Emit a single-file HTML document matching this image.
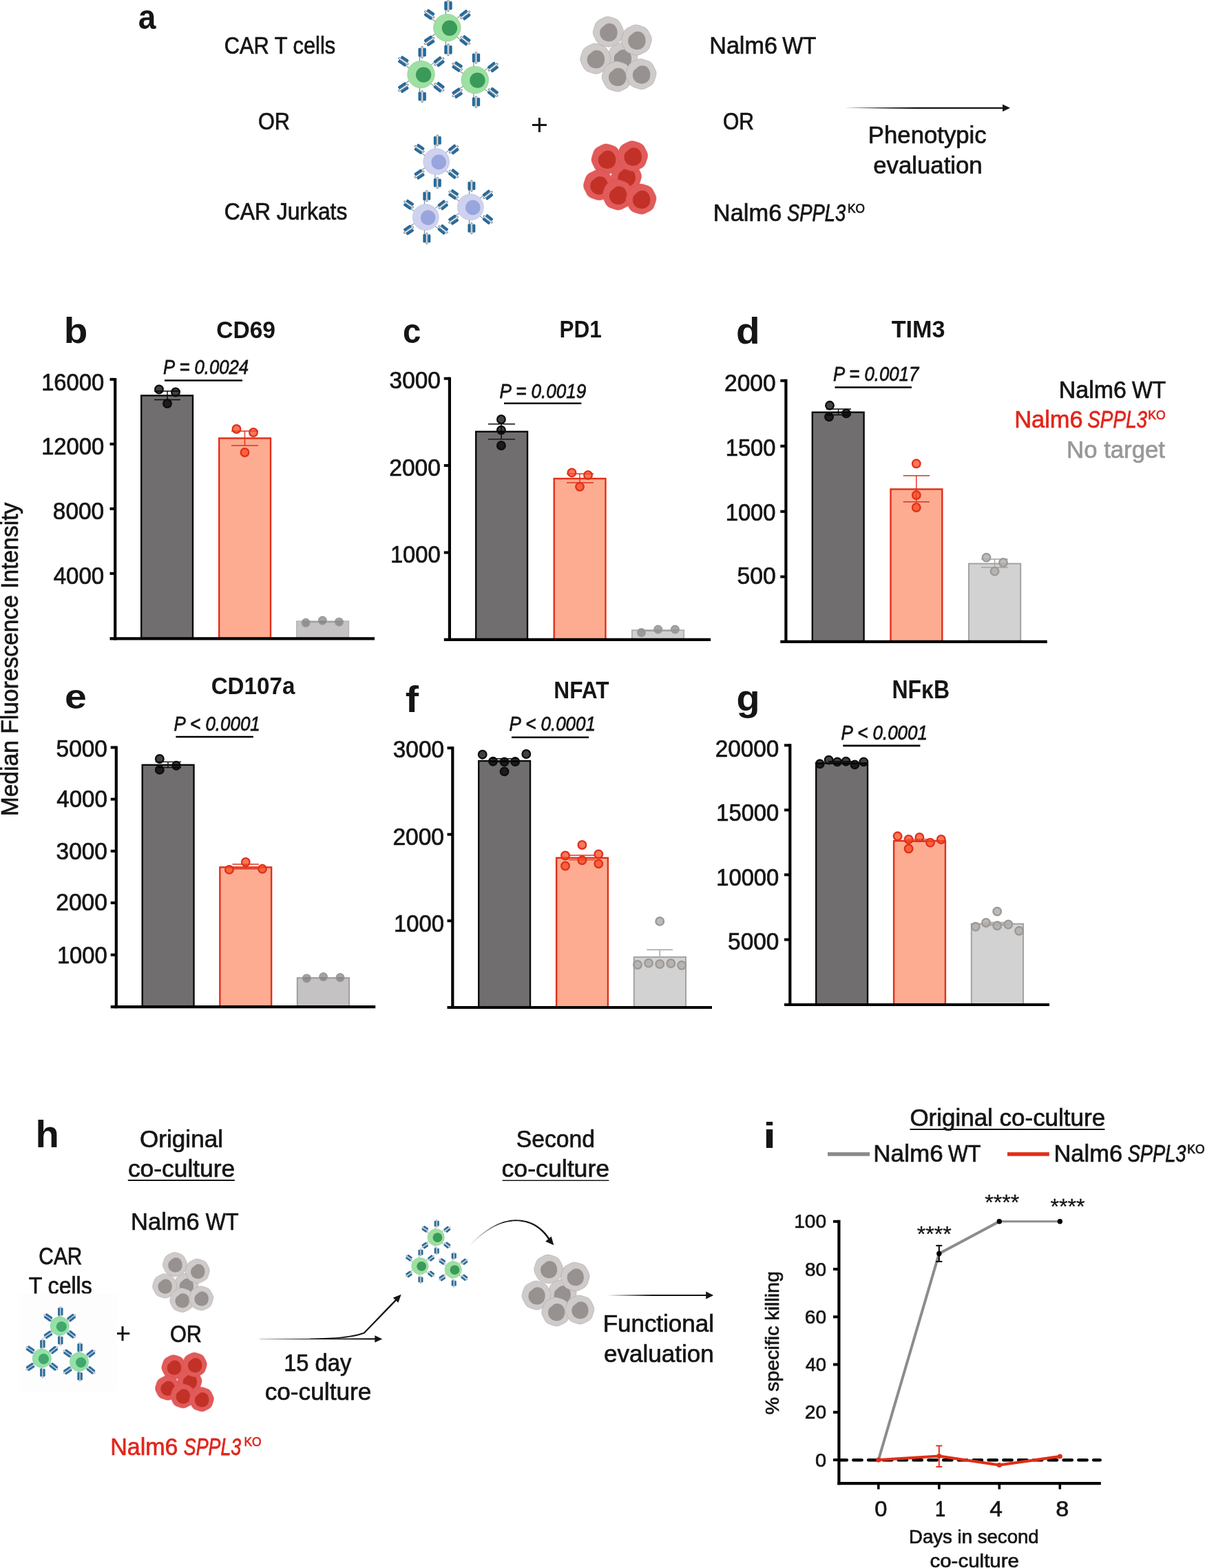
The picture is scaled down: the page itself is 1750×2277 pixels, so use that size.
<!DOCTYPE html>
<html lang="en"><head><meta charset="utf-8"><title>Figure</title>
<style>html,body{margin:0;padding:0;background:#fff;overflow:hidden}svg{display:block}text{font-family:"Liberation Sans",sans-serif}</style>
</head><body>
<svg width="1750" height="2277" viewBox="0 0 1750 2277" fill="#151515">
<rect width="1750" height="2277" fill="#fff"/>
<defs>
<g id="rc"><line x1="-1.9" y1="-19" x2="-1.9" y2="-26" stroke="#3d5666" stroke-width="0.8"/><rect x="0.45" y="-40.6" width="2.35" height="17" rx="1.17" fill="#fff" stroke="#3f5566" stroke-width="0.85"/><rect x="-4.05" y="-38.5" width="4" height="13.3" rx="1.8" fill="#256a9c"/><rect x="3.25" y="-38.5" width="4.1" height="12.7" rx="1.8" fill="#256a9c"/></g>
<g id="tc">
<use href="#rc"/>
<use href="#rc" transform="scale(1,-1)"/>
<use href="#rc" transform="rotate(52)"/>
<use href="#rc" transform="scale(1,-1) rotate(52)"/>
<use href="#rc" transform="rotate(-56)"/>
<use href="#rc" transform="scale(1,-1) rotate(-56)"/>
<circle r="19.8" fill="#9ee0a1" stroke="#7fcf86" stroke-width="0.6"/>
<circle cx="3.6" cy="0.6" r="11.2" fill="#3a9a5a"/>
</g>
<g id="jk">
<use href="#rc"/>
<use href="#rc" transform="scale(1,-1)"/>
<use href="#rc" transform="rotate(52)"/>
<use href="#rc" transform="scale(1,-1) rotate(52)"/>
<use href="#rc" transform="rotate(-56)"/>
<use href="#rc" transform="scale(1,-1) rotate(-56)"/>
<circle r="19.8" fill="#ced2ef" stroke="#b4bbec" stroke-width="0.6"/>
<circle cx="3.6" cy="0.6" r="11.2" fill="#99a5dd"/>
</g>
<g id="rcs"><line x1="-1.1" y1="-13" x2="-1.1" y2="-16" stroke="#3d6a80" stroke-width="0.7"/><rect x="-0.3" y="-28.4" width="2.7" height="14.2" rx="1.35" fill="#d9d7e3" stroke="#9a98b2" stroke-width="0.55"/><rect x="-2.7" y="-26.6" width="3.1" height="11.8" rx="1.4" fill="#2e6f9e"/><rect x="1.75" y="-26.6" width="3.1" height="11.4" rx="1.4" fill="#2e6f9e"/></g>
<g id="tcs">
<use href="#rcs"/>
<use href="#rcs" transform="scale(1,-1)"/>
<use href="#rcs" transform="rotate(52)"/>
<use href="#rcs" transform="scale(1,-1) rotate(52)"/>
<use href="#rcs" transform="rotate(-56)"/>
<use href="#rcs" transform="scale(1,-1) rotate(-56)"/>
<circle r="13.6" fill="#96e0a6" stroke="#7dd6a2" stroke-width="0.7"/>
<circle cx="2.6" cy="0.8" r="7.6" fill="#40a86c"/>
</g>
<g id="ng">
<path d="M22.00,0.00 L21.59,2.43 L20.89,4.77 L20.14,7.05 L19.39,9.34 L18.49,11.62 L17.24,13.75 L15.56,15.56 L13.55,16.99 L11.40,18.14 L9.26,19.22 L7.11,20.31 L4.86,21.29 L2.47,21.91 L0.00,22.00 L-2.43,21.59 L-4.77,20.89 L-7.05,20.14 L-9.34,19.39 L-11.62,18.49 L-13.75,17.24 L-15.56,15.56 L-16.99,13.55 L-18.14,11.40 L-19.22,9.26 L-20.31,7.11 L-21.29,4.86 L-21.91,2.47 L-22.00,0.00 L-21.59,-2.43 L-20.89,-4.77 L-20.14,-7.05 L-19.39,-9.34 L-18.49,-11.62 L-17.24,-13.75 L-15.56,-15.56 L-13.55,-16.99 L-11.40,-18.14 L-9.26,-19.22 L-7.11,-20.31 L-4.86,-21.29 L-2.47,-21.91 L-0.00,-22.00 L2.43,-21.59 L4.77,-20.89 L7.05,-20.14 L9.34,-19.39 L11.62,-18.49 L13.75,-17.24 L15.56,-15.56 L16.99,-13.55 L18.14,-11.40 L19.22,-9.26 L20.31,-7.11 L21.29,-4.86 L21.91,-2.47Z" fill="#cfcbcb" stroke="#a59b9b" stroke-width="0.5"/>
<path d="M-12.2,1.5 C-12.2,-2 -11,-4.5 -9.5,-6 L-3.5,-11 C-2,-12 0,-12.3 2,-12.3 C9,-12.3 13.3,-6 13.3,1 C13.3,9 8,14.1 1,14.1 C-6.5,14.1 -12.2,8.5 -12.2,1.5Z" fill="#979290"/>
</g>
<g id="nr">
<path d="M22.00,0.00 L21.59,2.43 L20.89,4.77 L20.14,7.05 L19.39,9.34 L18.49,11.62 L17.24,13.75 L15.56,15.56 L13.55,16.99 L11.40,18.14 L9.26,19.22 L7.11,20.31 L4.86,21.29 L2.47,21.91 L0.00,22.00 L-2.43,21.59 L-4.77,20.89 L-7.05,20.14 L-9.34,19.39 L-11.62,18.49 L-13.75,17.24 L-15.56,15.56 L-16.99,13.55 L-18.14,11.40 L-19.22,9.26 L-20.31,7.11 L-21.29,4.86 L-21.91,2.47 L-22.00,0.00 L-21.59,-2.43 L-20.89,-4.77 L-20.14,-7.05 L-19.39,-9.34 L-18.49,-11.62 L-17.24,-13.75 L-15.56,-15.56 L-13.55,-16.99 L-11.40,-18.14 L-9.26,-19.22 L-7.11,-20.31 L-4.86,-21.29 L-2.47,-21.91 L-0.00,-22.00 L2.43,-21.59 L4.77,-20.89 L7.05,-20.14 L9.34,-19.39 L11.62,-18.49 L13.75,-17.24 L15.56,-15.56 L16.99,-13.55 L18.14,-11.40 L19.22,-9.26 L20.31,-7.11 L21.29,-4.86 L21.91,-2.47Z" fill="#e05b59" stroke="#e6494b" stroke-width="0.5"/>
<path d="M-12.2,1.5 C-12.2,-2 -11,-4.5 -9.5,-6 L-3.5,-11 C-2,-12 0,-12.3 2,-12.3 C9,-12.3 13.3,-6 13.3,1 C13.3,9 8,14.1 1,14.1 C-6.5,14.1 -12.2,8.5 -12.2,1.5Z" fill="#c23127"/>
</g>
</defs>
<g id="panel-a">
<text transform="translate(200.81,41.90) scale(0.4617,0.5036)" font-size="100" font-weight="bold">a</text>
<text transform="translate(325.81,78.40) scale(0.8981,1.0000)" font-size="34.3" stroke="#151515" stroke-width="0.74">CAR T cells</text>
<text transform="translate(374.97,188.00) scale(0.8953,1.0000)" font-size="34.3" stroke="#151515" stroke-width="0.74">OR</text>
<text transform="translate(325.76,318.80) scale(0.9277,1.0000)" font-size="34.3" stroke="#151515" stroke-width="0.73">CAR Jurkats</text>
<text transform="translate(770.84,195.98) scale(0.4330,0.4306)" font-size="100">+</text>
<use href="#tc" transform="translate(649.3,40.2)"/>
<use href="#tc" transform="translate(611.5,108.0)"/>
<use href="#tc" transform="translate(689.8,116.0)"/>
<use href="#jk" transform="translate(633.7,234.8) scale(0.96)"/>
<use href="#jk" transform="translate(618.2,315.5) scale(0.96)"/>
<use href="#jk" transform="translate(683.3,300.8) scale(0.96)"/>
<use href="#ng" transform="translate(903.8,84.3)"/>
<use href="#ng" transform="translate(864.8,85.2)"/>
<use href="#ng" transform="translate(883.3,46.2)"/>
<use href="#ng" transform="translate(924.3,58.1)"/>
<use href="#ng" transform="translate(896.2,111.0)"/>
<use href="#ng" transform="translate(931.0,107.6)"/>
<use href="#nr" transform="translate(881.0,231.0)"/>
<use href="#nr" transform="translate(909.5,256.7)"/>
<use href="#nr" transform="translate(869.5,268.6)"/>
<use href="#nr" transform="translate(918.6,226.7)"/>
<use href="#nr" transform="translate(897.1,282.9)"/>
<use href="#nr" transform="translate(931.0,289.0)"/>
<text transform="translate(1030.22,78.40) scale(0.9957,1.0000)" font-size="34.3" stroke="#151515" stroke-width="0.70">Nalm6</text>
<text transform="translate(1136.19,78.40) scale(0.9242,1.0000)" font-size="34.3" stroke="#151515" stroke-width="0.73">WT</text>
<text transform="translate(1050.00,188.00) scale(0.8746,1.0000)" font-size="34.3" stroke="#151515" stroke-width="0.75">OR</text>
<text transform="translate(1035.79,320.90) scale(1.0041,1.0000)" font-size="34.3" stroke="#151515" stroke-width="0.70">Nalm6</text>
<text transform="translate(1143.03,320.90) scale(0.7974,1.0000)" font-size="34.3" font-style="italic" stroke="#151515" stroke-width="0.78">SPPL3</text>
<text transform="translate(1230.97,308.89) scale(0.8991,1.0000)" font-size="19.2" stroke="#151515" stroke-width="0.74">KO</text>
<path d="M1226.0,156.8 L1330.0,155.7 L1457.0,155.7 L1457.0,157.9 L1330.0,157.9Z" fill="#151515"/>
<path d="M1467.0,156.8 L1456.0,151.6 L1456.0,162.0Z" fill="#151515"/>
<text transform="translate(1260.87,208.40) scale(1.0127,1.0000)" font-size="34.3" stroke="#151515" stroke-width="0.70">Phenotypic</text>
<text transform="translate(1268.26,252.00) scale(1.0137,1.0000)" font-size="34.3" stroke="#151515" stroke-width="0.70">evaluation</text>
</g>
<text transform="translate(1537.73,577.80) scale(0.9904,1.0000)" font-size="34.3" stroke="#151515" stroke-width="0.70">Nalm6</text>
<text transform="translate(1643.99,577.80) scale(0.9223,1.0000)" font-size="34.3" stroke="#151515" stroke-width="0.73">WT</text>
<text transform="translate(1473.20,621.30) scale(1.0030,1.0000)" font-size="34.3" fill="#e1261c" stroke="#e1261c" stroke-width="0.70">Nalm6</text>
<text transform="translate(1579.31,621.30) scale(0.8116,1.0000)" font-size="34.3" font-style="italic" fill="#e1261c" stroke="#e1261c" stroke-width="0.77">SPPL3</text>
<text transform="translate(1667.24,609.29) scale(0.9149,1.0000)" font-size="19.2" fill="#e1261c" stroke="#e1261c" stroke-width="0.73">KO</text>
<text transform="translate(1549.07,665.00) scale(1.0133,1.0000)" font-size="34.3" fill="#989898" stroke="#989898" stroke-width="0.70">No target</text>
<text transform="translate(25.7,1183) rotate(-90) translate(-2.34,0.00) scale(0.9800,1.0000)" font-size="34.3" stroke="#151515" stroke-width="0.71">Median Fluorescence Intensity</text>
<g id="panel-b">
<text transform="translate(92.72,498.08) scale(0.5663,0.5224)" font-size="100" font-weight="bold">b</text>
<text transform="translate(314.16,491.15) scale(0.3359,0.3535)" font-size="100" font-weight="bold">CD69</text>
<text transform="translate(237.08,543.00) scale(0.8564,1.0000)" font-size="30" font-style="italic" stroke="#151515" stroke-width="0.75">P = 0.0024</text>
<line x1="239.0" y1="552.5" x2="352.0" y2="552.5" stroke="#000" stroke-width="2.6"/>
<rect x="205.20" y="574.40" width="74.80" height="352.90" fill="#706e6f" stroke="#0a0a0a" stroke-width="2.4"/>
<line x1="243.0" y1="568.0" x2="243.0" y2="580.5" stroke="#0a0a0a" stroke-width="1.4"/>
<line x1="224.0" y1="568.0" x2="262.0" y2="568.0" stroke="#0a0a0a" stroke-width="1.4"/>
<line x1="224.0" y1="580.5" x2="262.0" y2="580.5" stroke="#0a0a0a" stroke-width="1.4"/>
<circle cx="231.0" cy="565.5" r="5.8" fill="#000000" fill-opacity="0.74" stroke="#0d0d0d" stroke-width="2.3"/>
<circle cx="255.0" cy="569.5" r="5.8" fill="#000000" fill-opacity="0.74" stroke="#0d0d0d" stroke-width="2.3"/>
<circle cx="243.0" cy="586.0" r="5.8" fill="#000000" fill-opacity="0.74" stroke="#0d0d0d" stroke-width="2.3"/>
<rect x="318.20" y="636.40" width="74.80" height="290.90" fill="#fdac91" stroke="#e0301a" stroke-width="2.4"/>
<line x1="355.5" y1="626.0" x2="355.5" y2="647.0" stroke="#e0301a" stroke-width="1.4"/>
<line x1="336.0" y1="626.0" x2="375.0" y2="626.0" stroke="#e0301a" stroke-width="1.4"/>
<line x1="336.0" y1="647.0" x2="375.0" y2="647.0" stroke="#e0301a" stroke-width="1.4"/>
<circle cx="343.5" cy="623.0" r="5.8" fill="#f74720" fill-opacity="0.74" stroke="#e0301a" stroke-width="2.3"/>
<circle cx="368.0" cy="628.0" r="5.8" fill="#f74720" fill-opacity="0.74" stroke="#e0301a" stroke-width="2.3"/>
<circle cx="355.5" cy="657.0" r="5.8" fill="#f74720" fill-opacity="0.74" stroke="#e0301a" stroke-width="2.3"/>
<rect x="430.80" y="902.10" width="75.60" height="25.20" fill="#c5c3c3" stroke="#b9b7b7" stroke-width="1.6"/>
<line x1="468.4" y1="902.6" x2="468.4" y2="903.6" stroke="#a3a09f" stroke-width="1.4"/>
<line x1="449.0" y1="902.6" x2="488.0" y2="902.6" stroke="#a3a09f" stroke-width="1.4"/>
<line x1="449.0" y1="903.6" x2="488.0" y2="903.6" stroke="#a3a09f" stroke-width="1.4"/>
<circle cx="444.1" cy="904.3" r="5.8" fill="#7d7b7a" fill-opacity="0.7" stroke="#9a9897" stroke-width="1.4"/>
<circle cx="468.4" cy="901.1" r="5.8" fill="#7d7b7a" fill-opacity="0.7" stroke="#9a9897" stroke-width="1.4"/>
<circle cx="492.5" cy="903.2" r="5.8" fill="#7d7b7a" fill-opacity="0.7" stroke="#9a9897" stroke-width="1.4"/>
<line x1="167.2" y1="548.9" x2="167.2" y2="929.4" stroke="#000" stroke-width="4.2"/>
<line x1="159.5" y1="927.3" x2="544.0" y2="927.3" stroke="#000" stroke-width="4.2"/>
<line x1="159.5" y1="550.9" x2="167.2" y2="550.9" stroke="#000" stroke-width="4"/>
<text transform="translate(60.14,566.80) scale(0.9549,1.0000)" font-size="34.3" stroke="#151515" stroke-width="0.72">16000</text>
<line x1="159.5" y1="644.8" x2="167.2" y2="644.8" stroke="#000" stroke-width="4"/>
<text transform="translate(60.14,660.40) scale(0.9549,1.0000)" font-size="34.3" stroke="#151515" stroke-width="0.72">12000</text>
<line x1="159.5" y1="738.8" x2="167.2" y2="738.8" stroke="#000" stroke-width="4"/>
<text transform="translate(76.85,754.10) scale(0.9745,1.0000)" font-size="34.3" stroke="#151515" stroke-width="0.71">8000</text>
<line x1="159.5" y1="832.8" x2="167.2" y2="832.8" stroke="#000" stroke-width="4"/>
<text transform="translate(77.69,847.50) scale(0.9633,1.0000)" font-size="34.3" stroke="#151515" stroke-width="0.71">4000</text>
</g>
<g id="panel-c">
<text transform="translate(585.10,498.11) scale(0.4742,0.4927)" font-size="100" font-weight="bold">c</text>
<text transform="translate(812.45,490.40) scale(0.3154,0.3565)" font-size="100" font-weight="bold">PD1</text>
<text transform="translate(725.57,577.50) scale(0.8677,1.0000)" font-size="30" font-style="italic" stroke="#151515" stroke-width="0.75">P = 0.0019</text>
<line x1="732.0" y1="585.7" x2="844.3" y2="585.7" stroke="#000" stroke-width="2.6"/>
<rect x="691.20" y="626.80" width="74.80" height="302.00" fill="#706e6f" stroke="#0a0a0a" stroke-width="2.4"/>
<line x1="728.0" y1="615.7" x2="728.0" y2="637.9" stroke="#0a0a0a" stroke-width="1.4"/>
<line x1="709.0" y1="615.7" x2="748.0" y2="615.7" stroke="#0a0a0a" stroke-width="1.4"/>
<line x1="709.0" y1="637.9" x2="748.0" y2="637.9" stroke="#0a0a0a" stroke-width="1.4"/>
<circle cx="727.9" cy="609.0" r="5.8" fill="#000000" fill-opacity="0.74" stroke="#0d0d0d" stroke-width="2.3"/>
<circle cx="727.9" cy="624.6" r="5.8" fill="#000000" fill-opacity="0.74" stroke="#0d0d0d" stroke-width="2.3"/>
<circle cx="727.9" cy="647.0" r="5.8" fill="#000000" fill-opacity="0.74" stroke="#0d0d0d" stroke-width="2.3"/>
<rect x="804.65" y="695.00" width="74.80" height="233.80" fill="#fdac91" stroke="#e0301a" stroke-width="2.4"/>
<line x1="842.0" y1="688.0" x2="842.0" y2="701.0" stroke="#e0301a" stroke-width="1.4"/>
<line x1="823.0" y1="688.0" x2="862.0" y2="688.0" stroke="#e0301a" stroke-width="1.4"/>
<line x1="823.0" y1="701.0" x2="862.0" y2="701.0" stroke="#e0301a" stroke-width="1.4"/>
<circle cx="830.4" cy="686.4" r="5.8" fill="#f74720" fill-opacity="0.74" stroke="#e0301a" stroke-width="2.3"/>
<circle cx="854.0" cy="690.0" r="5.8" fill="#f74720" fill-opacity="0.74" stroke="#e0301a" stroke-width="2.3"/>
<circle cx="842.0" cy="706.8" r="5.8" fill="#f74720" fill-opacity="0.74" stroke="#e0301a" stroke-width="2.3"/>
<rect x="917.90" y="915.20" width="75.20" height="13.60" fill="#d1d0d0" stroke="#b3b1b0" stroke-width="2"/>
<line x1="955.7" y1="915.4" x2="955.7" y2="916.4" stroke="#a5a3a1" stroke-width="1.4"/>
<line x1="936.5" y1="915.4" x2="975.0" y2="915.4" stroke="#a5a3a1" stroke-width="1.4"/>
<line x1="936.5" y1="916.4" x2="975.0" y2="916.4" stroke="#a5a3a1" stroke-width="1.4"/>
<circle cx="931.4" cy="918.6" r="5.8" fill="#8f8d8c" fill-opacity="0.8" stroke="#9a9897" stroke-width="1.4"/>
<circle cx="955.7" cy="914.0" r="5.8" fill="#8f8d8c" fill-opacity="0.8" stroke="#9a9897" stroke-width="1.4"/>
<circle cx="980.4" cy="914.0" r="5.8" fill="#8f8d8c" fill-opacity="0.8" stroke="#9a9897" stroke-width="1.4"/>
<line x1="652.9" y1="547.7" x2="652.9" y2="930.9" stroke="#000" stroke-width="4.2"/>
<line x1="644.8" y1="928.8" x2="1032.1" y2="928.8" stroke="#000" stroke-width="4.2"/>
<line x1="644.8" y1="549.7" x2="652.9" y2="549.7" stroke="#000" stroke-width="4"/>
<text transform="translate(565.62,564.40) scale(0.9723,1.0000)" font-size="34.3" stroke="#151515" stroke-width="0.71">3000</text>
<line x1="644.8" y1="676.0" x2="652.9" y2="676.0" stroke="#000" stroke-width="4"/>
<text transform="translate(565.27,691.00) scale(0.9768,1.0000)" font-size="34.3" stroke="#151515" stroke-width="0.71">2000</text>
<line x1="644.8" y1="802.4" x2="652.9" y2="802.4" stroke="#000" stroke-width="4"/>
<text transform="translate(566.89,817.00) scale(0.9553,1.0000)" font-size="34.3" stroke="#151515" stroke-width="0.72">1000</text>
</g>
<g id="panel-d">
<text transform="translate(1069.03,498.56) scale(0.5683,0.5361)" font-size="100" font-weight="bold">d</text>
<text transform="translate(1294.66,490.45) scale(0.3422,0.3521)" font-size="100" font-weight="bold">TIM3</text>
<text transform="translate(1209.98,552.50) scale(0.8587,1.0000)" font-size="30" font-style="italic" stroke="#151515" stroke-width="0.75">P = 0.0017</text>
<line x1="1212.5" y1="562.5" x2="1324.0" y2="562.5" stroke="#000" stroke-width="2.6"/>
<rect x="1179.80" y="598.70" width="74.80" height="333.20" fill="#706e6f" stroke="#0a0a0a" stroke-width="2.4"/>
<line x1="1217.5" y1="594.0" x2="1217.5" y2="602.5" stroke="#0a0a0a" stroke-width="1.4"/>
<line x1="1200.0" y1="594.0" x2="1236.0" y2="594.0" stroke="#0a0a0a" stroke-width="1.4"/>
<line x1="1200.0" y1="602.5" x2="1236.0" y2="602.5" stroke="#0a0a0a" stroke-width="1.4"/>
<circle cx="1205.0" cy="588.8" r="5.8" fill="#000000" fill-opacity="0.74" stroke="#0d0d0d" stroke-width="2.3"/>
<circle cx="1204.0" cy="605.4" r="5.8" fill="#000000" fill-opacity="0.74" stroke="#0d0d0d" stroke-width="2.3"/>
<circle cx="1229.0" cy="600.4" r="5.8" fill="#000000" fill-opacity="0.74" stroke="#0d0d0d" stroke-width="2.3"/>
<rect x="1293.50" y="710.40" width="74.80" height="221.50" fill="#fdac91" stroke="#e0301a" stroke-width="2.4"/>
<line x1="1330.8" y1="690.8" x2="1330.8" y2="728.8" stroke="#e0301a" stroke-width="1.4"/>
<line x1="1311.7" y1="690.8" x2="1350.0" y2="690.8" stroke="#e0301a" stroke-width="1.4"/>
<line x1="1311.7" y1="728.8" x2="1350.0" y2="728.8" stroke="#e0301a" stroke-width="1.4"/>
<circle cx="1330.8" cy="673.3" r="5.8" fill="#f74720" fill-opacity="0.74" stroke="#e0301a" stroke-width="2.3"/>
<circle cx="1330.8" cy="719.0" r="5.8" fill="#f74720" fill-opacity="0.74" stroke="#e0301a" stroke-width="2.3"/>
<circle cx="1330.8" cy="737.0" r="5.8" fill="#f74720" fill-opacity="0.74" stroke="#e0301a" stroke-width="2.3"/>
<rect x="1407.00" y="818.50" width="75.20" height="113.40" fill="#d3d2d2" stroke="#a5a29f" stroke-width="2"/>
<line x1="1444.6" y1="812.0" x2="1444.6" y2="824.0" stroke="#a5a29f" stroke-width="1.4"/>
<line x1="1425.0" y1="812.0" x2="1463.8" y2="812.0" stroke="#a5a29f" stroke-width="1.4"/>
<line x1="1425.0" y1="824.0" x2="1463.8" y2="824.0" stroke="#a5a29f" stroke-width="1.4"/>
<circle cx="1432.5" cy="809.6" r="5.8" fill="#b0afae" fill-opacity="0.85" stroke="#9c9896" stroke-width="2.3"/>
<circle cx="1457.0" cy="817.0" r="5.8" fill="#b0afae" fill-opacity="0.85" stroke="#9c9896" stroke-width="2.3"/>
<circle cx="1444.6" cy="829.6" r="5.8" fill="#b0afae" fill-opacity="0.85" stroke="#9c9896" stroke-width="2.3"/>
<line x1="1141.4" y1="550.8" x2="1141.4" y2="934.0" stroke="#000" stroke-width="4.2"/>
<line x1="1133.3" y1="931.9" x2="1520.7" y2="931.9" stroke="#000" stroke-width="4.2"/>
<line x1="1133.3" y1="552.8" x2="1141.4" y2="552.8" stroke="#000" stroke-width="4"/>
<text transform="translate(1052.07,568.10) scale(0.9768,1.0000)" font-size="34.3" stroke="#151515" stroke-width="0.71">2000</text>
<line x1="1133.3" y1="647.8" x2="1141.4" y2="647.8" stroke="#000" stroke-width="4"/>
<text transform="translate(1053.69,661.90) scale(0.9553,1.0000)" font-size="34.3" stroke="#151515" stroke-width="0.72">1500</text>
<line x1="1133.3" y1="742.8" x2="1141.4" y2="742.8" stroke="#000" stroke-width="4"/>
<text transform="translate(1053.69,756.00) scale(0.9553,1.0000)" font-size="34.3" stroke="#151515" stroke-width="0.72">1000</text>
<line x1="1133.3" y1="837.5" x2="1141.4" y2="837.5" stroke="#000" stroke-width="4"/>
<text transform="translate(1070.55,847.90) scale(0.9819,1.0000)" font-size="34.3" stroke="#151515" stroke-width="0.71">500</text>
</g>
<g id="panel-e">
<text transform="translate(94.01,1029.30) scale(0.5729,0.5018)" font-size="100" font-weight="bold">e</text>
<text transform="translate(306.67,1007.65) scale(0.3319,0.3535)" font-size="100" font-weight="bold">CD107a</text>
<text transform="translate(252.47,1061.00) scale(0.8655,1.0000)" font-size="30" font-style="italic" stroke="#151515" stroke-width="0.75">P &lt; 0.0001</text>
<line x1="255.4" y1="1070.0" x2="367.9" y2="1070.0" stroke="#000" stroke-width="2.6"/>
<rect x="206.70" y="1110.80" width="74.80" height="351.30" fill="#706e6f" stroke="#0a0a0a" stroke-width="2.4"/>
<line x1="244.0" y1="1106.4" x2="244.0" y2="1114.6" stroke="#0a0a0a" stroke-width="1.4"/>
<line x1="225.7" y1="1106.4" x2="263.0" y2="1106.4" stroke="#0a0a0a" stroke-width="1.4"/>
<line x1="225.7" y1="1114.6" x2="263.0" y2="1114.6" stroke="#0a0a0a" stroke-width="1.4"/>
<circle cx="231.8" cy="1102.0" r="5.8" fill="#000000" fill-opacity="0.74" stroke="#0d0d0d" stroke-width="2.3"/>
<circle cx="231.8" cy="1117.9" r="5.8" fill="#000000" fill-opacity="0.74" stroke="#0d0d0d" stroke-width="2.3"/>
<circle cx="256.0" cy="1111.8" r="5.8" fill="#000000" fill-opacity="0.74" stroke="#0d0d0d" stroke-width="2.3"/>
<rect x="319.35" y="1259.40" width="74.80" height="202.70" fill="#fdac91" stroke="#e0301a" stroke-width="2.4"/>
<line x1="356.8" y1="1255.0" x2="356.8" y2="1261.8" stroke="#e0301a" stroke-width="1.4"/>
<line x1="337.5" y1="1255.0" x2="376.0" y2="1255.0" stroke="#e0301a" stroke-width="1.4"/>
<line x1="337.5" y1="1261.8" x2="376.0" y2="1261.8" stroke="#e0301a" stroke-width="1.4"/>
<circle cx="332.9" cy="1262.9" r="5.8" fill="#f74720" fill-opacity="0.74" stroke="#e0301a" stroke-width="2.3"/>
<circle cx="356.8" cy="1252.0" r="5.8" fill="#f74720" fill-opacity="0.74" stroke="#e0301a" stroke-width="2.3"/>
<circle cx="381.0" cy="1261.8" r="5.8" fill="#f74720" fill-opacity="0.74" stroke="#e0301a" stroke-width="2.3"/>
<rect x="431.70" y="1420.10" width="75.40" height="42.00" fill="#c4c2c2" stroke="#9d9b99" stroke-width="1.8"/>
<line x1="469.6" y1="1419.6" x2="469.6" y2="1420.6" stroke="#a3a09f" stroke-width="1.4"/>
<line x1="450.5" y1="1419.6" x2="489.0" y2="1419.6" stroke="#a3a09f" stroke-width="1.4"/>
<line x1="450.5" y1="1420.6" x2="489.0" y2="1420.6" stroke="#a3a09f" stroke-width="1.4"/>
<circle cx="445.4" cy="1420.7" r="5.8" fill="#7d7b7a" fill-opacity="0.7" stroke="#9a9897" stroke-width="1.4"/>
<circle cx="469.6" cy="1418.6" r="5.8" fill="#7d7b7a" fill-opacity="0.7" stroke="#9a9897" stroke-width="1.4"/>
<circle cx="494.0" cy="1419.6" r="5.8" fill="#7d7b7a" fill-opacity="0.7" stroke="#9a9897" stroke-width="1.4"/>
<line x1="168.8" y1="1083.4" x2="168.8" y2="1464.2" stroke="#000" stroke-width="4.2"/>
<line x1="160.7" y1="1462.1" x2="545.2" y2="1462.1" stroke="#000" stroke-width="4.2"/>
<line x1="160.7" y1="1085.4" x2="168.8" y2="1085.4" stroke="#000" stroke-width="4"/>
<text transform="translate(81.62,1098.80) scale(0.9723,1.0000)" font-size="34.3" stroke="#151515" stroke-width="0.71">5000</text>
<line x1="160.7" y1="1160.6" x2="168.8" y2="1160.6" stroke="#000" stroke-width="4"/>
<text transform="translate(82.29,1172.00) scale(0.9633,1.0000)" font-size="34.3" stroke="#151515" stroke-width="0.71">4000</text>
<line x1="160.7" y1="1235.9" x2="168.8" y2="1235.9" stroke="#000" stroke-width="4"/>
<text transform="translate(81.62,1247.70) scale(0.9723,1.0000)" font-size="34.3" stroke="#151515" stroke-width="0.71">3000</text>
<line x1="160.7" y1="1311.1" x2="168.8" y2="1311.1" stroke="#000" stroke-width="4"/>
<text transform="translate(81.27,1322.10) scale(0.9768,1.0000)" font-size="34.3" stroke="#151515" stroke-width="0.71">2000</text>
<line x1="160.7" y1="1386.6" x2="168.8" y2="1386.6" stroke="#000" stroke-width="4"/>
<text transform="translate(82.89,1399.00) scale(0.9553,1.0000)" font-size="34.3" stroke="#151515" stroke-width="0.72">1000</text>
</g>
<g id="panel-f">
<text transform="translate(588.63,1034.40) scale(0.5781,0.5407)" font-size="100" font-weight="bold">f</text>
<text transform="translate(804.24,1013.70) scale(0.3171,0.3580)" font-size="100" font-weight="bold">NFAT</text>
<text transform="translate(739.57,1061.00) scale(0.8655,1.0000)" font-size="30" font-style="italic" stroke="#151515" stroke-width="0.75">P &lt; 0.0001</text>
<line x1="743.0" y1="1070.7" x2="855.0" y2="1070.7" stroke="#000" stroke-width="2.6"/>
<rect x="695.20" y="1105.00" width="74.80" height="358.00" fill="#706e6f" stroke="#0a0a0a" stroke-width="2.4"/>
<line x1="732.5" y1="1101.8" x2="732.5" y2="1106.4" stroke="#0a0a0a" stroke-width="1.4"/>
<line x1="714.0" y1="1101.8" x2="753.0" y2="1101.8" stroke="#0a0a0a" stroke-width="1.4"/>
<line x1="714.0" y1="1106.4" x2="753.0" y2="1106.4" stroke="#0a0a0a" stroke-width="1.4"/>
<circle cx="700.7" cy="1095.7" r="5.8" fill="#000000" fill-opacity="0.74" stroke="#0d0d0d" stroke-width="2.3"/>
<circle cx="764.3" cy="1095.0" r="5.8" fill="#000000" fill-opacity="0.74" stroke="#0d0d0d" stroke-width="2.3"/>
<circle cx="716.0" cy="1105.7" r="5.8" fill="#000000" fill-opacity="0.74" stroke="#0d0d0d" stroke-width="2.3"/>
<circle cx="732.5" cy="1106.4" r="5.8" fill="#000000" fill-opacity="0.74" stroke="#0d0d0d" stroke-width="2.3"/>
<circle cx="748.2" cy="1106.0" r="5.8" fill="#000000" fill-opacity="0.74" stroke="#0d0d0d" stroke-width="2.3"/>
<circle cx="732.5" cy="1120.4" r="5.8" fill="#000000" fill-opacity="0.74" stroke="#0d0d0d" stroke-width="2.3"/>
<rect x="808.10" y="1245.80" width="74.80" height="217.20" fill="#fdac91" stroke="#e0301a" stroke-width="2.4"/>
<line x1="845.4" y1="1242.0" x2="845.4" y2="1248.6" stroke="#e0301a" stroke-width="1.4"/>
<line x1="826.0" y1="1242.0" x2="864.6" y2="1242.0" stroke="#e0301a" stroke-width="1.4"/>
<line x1="826.0" y1="1248.6" x2="864.6" y2="1248.6" stroke="#e0301a" stroke-width="1.4"/>
<circle cx="845.4" cy="1227.0" r="5.8" fill="#f74720" fill-opacity="0.74" stroke="#e0301a" stroke-width="2.3"/>
<circle cx="821.0" cy="1242.5" r="5.8" fill="#f74720" fill-opacity="0.74" stroke="#e0301a" stroke-width="2.3"/>
<circle cx="869.3" cy="1240.4" r="5.8" fill="#f74720" fill-opacity="0.74" stroke="#e0301a" stroke-width="2.3"/>
<circle cx="845.4" cy="1249.3" r="5.8" fill="#f74720" fill-opacity="0.74" stroke="#e0301a" stroke-width="2.3"/>
<circle cx="821.0" cy="1257.5" r="5.8" fill="#f74720" fill-opacity="0.74" stroke="#e0301a" stroke-width="2.3"/>
<circle cx="869.3" cy="1254.3" r="5.8" fill="#f74720" fill-opacity="0.74" stroke="#e0301a" stroke-width="2.3"/>
<rect x="920.80" y="1389.80" width="75.20" height="73.20" fill="#d3d2d2" stroke="#a5a29f" stroke-width="2"/>
<line x1="958.2" y1="1379.3" x2="958.2" y2="1388.8" stroke="#a5a29f" stroke-width="1.4"/>
<line x1="939.3" y1="1379.3" x2="977.0" y2="1379.3" stroke="#a5a29f" stroke-width="1.4"/>
<circle cx="958.2" cy="1337.9" r="5.8" fill="#b0afae" fill-opacity="0.85" stroke="#9c9896" stroke-width="2.3"/>
<circle cx="926.0" cy="1401.0" r="5.8" fill="#b0afae" fill-opacity="0.85" stroke="#9c9896" stroke-width="2.3"/>
<circle cx="942.0" cy="1398.6" r="5.8" fill="#b0afae" fill-opacity="0.85" stroke="#9c9896" stroke-width="2.3"/>
<circle cx="958.2" cy="1400.0" r="5.8" fill="#b0afae" fill-opacity="0.85" stroke="#9c9896" stroke-width="2.3"/>
<circle cx="974.3" cy="1399.0" r="5.8" fill="#b0afae" fill-opacity="0.85" stroke="#9c9896" stroke-width="2.3"/>
<circle cx="990.0" cy="1401.8" r="5.8" fill="#b0afae" fill-opacity="0.85" stroke="#9c9896" stroke-width="2.3"/>
<line x1="657.3" y1="1084.2" x2="657.3" y2="1465.1" stroke="#000" stroke-width="4.2"/>
<line x1="649.5" y1="1463.0" x2="1034.0" y2="1463.0" stroke="#000" stroke-width="4.2"/>
<line x1="649.5" y1="1086.2" x2="657.3" y2="1086.2" stroke="#000" stroke-width="4"/>
<text transform="translate(570.82,1100.30) scale(0.9723,1.0000)" font-size="34.3" stroke="#151515" stroke-width="0.71">3000</text>
<line x1="649.5" y1="1211.7" x2="657.3" y2="1211.7" stroke="#000" stroke-width="4"/>
<text transform="translate(570.47,1226.70) scale(0.9768,1.0000)" font-size="34.3" stroke="#151515" stroke-width="0.71">2000</text>
<line x1="649.5" y1="1337.2" x2="657.3" y2="1337.2" stroke="#000" stroke-width="4"/>
<text transform="translate(572.09,1352.90) scale(0.9553,1.0000)" font-size="34.3" stroke="#151515" stroke-width="0.72">1000</text>
</g>
<g id="panel-g">
<text transform="translate(1069.57,1031.57) scale(0.5584,0.5347)" font-size="100" font-weight="bold">g</text>
<text transform="translate(1295.42,1014.00) scale(0.3200,0.3623)" font-size="100" font-weight="bold">NFκB</text>
<text transform="translate(1221.57,1073.60) scale(0.8655,1.0000)" font-size="30" font-style="italic" stroke="#151515" stroke-width="0.75">P &lt; 0.0001</text>
<line x1="1224.3" y1="1082.9" x2="1336.4" y2="1082.9" stroke="#000" stroke-width="2.6"/>
<rect x="1185.20" y="1108.40" width="74.80" height="350.60" fill="#706e6f" stroke="#0a0a0a" stroke-width="2.4"/>
<line x1="1222.5" y1="1105.8" x2="1222.5" y2="1108.6" stroke="#0a0a0a" stroke-width="1.4"/>
<line x1="1203.0" y1="1105.8" x2="1242.0" y2="1105.8" stroke="#0a0a0a" stroke-width="1.4"/>
<line x1="1203.0" y1="1108.6" x2="1242.0" y2="1108.6" stroke="#0a0a0a" stroke-width="1.4"/>
<circle cx="1190.7" cy="1109.3" r="5.8" fill="#000000" fill-opacity="0.74" stroke="#0d0d0d" stroke-width="2.3"/>
<circle cx="1203.6" cy="1103.6" r="5.8" fill="#000000" fill-opacity="0.74" stroke="#0d0d0d" stroke-width="2.3"/>
<circle cx="1216.0" cy="1106.4" r="5.8" fill="#000000" fill-opacity="0.74" stroke="#0d0d0d" stroke-width="2.3"/>
<circle cx="1228.6" cy="1105.7" r="5.8" fill="#000000" fill-opacity="0.74" stroke="#0d0d0d" stroke-width="2.3"/>
<circle cx="1241.4" cy="1110.4" r="5.8" fill="#000000" fill-opacity="0.74" stroke="#0d0d0d" stroke-width="2.3"/>
<circle cx="1254.3" cy="1106.4" r="5.8" fill="#000000" fill-opacity="0.74" stroke="#0d0d0d" stroke-width="2.3"/>
<rect x="1298.10" y="1221.10" width="74.80" height="237.90" fill="#fdac91" stroke="#e0301a" stroke-width="2.4"/>
<line x1="1335.4" y1="1218.6" x2="1335.4" y2="1222.0" stroke="#e0301a" stroke-width="1.4"/>
<line x1="1316.0" y1="1218.6" x2="1355.0" y2="1218.6" stroke="#e0301a" stroke-width="1.4"/>
<line x1="1316.0" y1="1222.0" x2="1355.0" y2="1222.0" stroke="#e0301a" stroke-width="1.4"/>
<circle cx="1303.6" cy="1214.3" r="5.8" fill="#f74720" fill-opacity="0.74" stroke="#e0301a" stroke-width="2.3"/>
<circle cx="1319.6" cy="1219.0" r="5.8" fill="#f74720" fill-opacity="0.74" stroke="#e0301a" stroke-width="2.3"/>
<circle cx="1335.4" cy="1216.0" r="5.8" fill="#f74720" fill-opacity="0.74" stroke="#e0301a" stroke-width="2.3"/>
<circle cx="1351.0" cy="1223.6" r="5.8" fill="#f74720" fill-opacity="0.74" stroke="#e0301a" stroke-width="2.3"/>
<circle cx="1366.8" cy="1219.0" r="5.8" fill="#f74720" fill-opacity="0.74" stroke="#e0301a" stroke-width="2.3"/>
<circle cx="1319.6" cy="1232.5" r="5.8" fill="#f74720" fill-opacity="0.74" stroke="#e0301a" stroke-width="2.3"/>
<rect x="1410.80" y="1341.60" width="75.20" height="117.40" fill="#d3d2d2" stroke="#a5a29f" stroke-width="2"/>
<line x1="1448.2" y1="1339.5" x2="1448.2" y2="1343.6" stroke="#a5a29f" stroke-width="1.4"/>
<line x1="1429.0" y1="1339.5" x2="1467.5" y2="1339.5" stroke="#a5a29f" stroke-width="1.4"/>
<line x1="1429.0" y1="1343.6" x2="1467.5" y2="1343.6" stroke="#a5a29f" stroke-width="1.4"/>
<circle cx="1448.2" cy="1323.6" r="5.8" fill="#b0afae" fill-opacity="0.85" stroke="#9c9896" stroke-width="2.3"/>
<circle cx="1416.8" cy="1345.7" r="5.8" fill="#b0afae" fill-opacity="0.85" stroke="#9c9896" stroke-width="2.3"/>
<circle cx="1432.0" cy="1340.0" r="5.8" fill="#b0afae" fill-opacity="0.85" stroke="#9c9896" stroke-width="2.3"/>
<circle cx="1448.2" cy="1344.3" r="5.8" fill="#b0afae" fill-opacity="0.85" stroke="#9c9896" stroke-width="2.3"/>
<circle cx="1464.3" cy="1342.5" r="5.8" fill="#b0afae" fill-opacity="0.85" stroke="#9c9896" stroke-width="2.3"/>
<circle cx="1480.0" cy="1351.8" r="5.8" fill="#b0afae" fill-opacity="0.85" stroke="#9c9896" stroke-width="2.3"/>
<line x1="1147.3" y1="1080.3" x2="1147.3" y2="1461.1" stroke="#000" stroke-width="4.2"/>
<line x1="1139.0" y1="1459.0" x2="1524.0" y2="1459.0" stroke="#000" stroke-width="4.2"/>
<line x1="1139.0" y1="1082.3" x2="1147.3" y2="1082.3" stroke="#000" stroke-width="4"/>
<text transform="translate(1038.63,1099.20) scale(0.9720,1.0000)" font-size="34.3" stroke="#151515" stroke-width="0.71">20000</text>
<line x1="1139.0" y1="1176.3" x2="1147.3" y2="1176.3" stroke="#000" stroke-width="4"/>
<text transform="translate(1040.24,1192.40) scale(0.9549,1.0000)" font-size="34.3" stroke="#151515" stroke-width="0.72">15000</text>
<line x1="1139.0" y1="1270.3" x2="1147.3" y2="1270.3" stroke="#000" stroke-width="4"/>
<text transform="translate(1040.24,1286.20) scale(0.9549,1.0000)" font-size="34.3" stroke="#151515" stroke-width="0.72">10000</text>
<line x1="1139.0" y1="1364.5" x2="1147.3" y2="1364.5" stroke="#000" stroke-width="4"/>
<text transform="translate(1057.12,1379.00) scale(0.9723,1.0000)" font-size="34.3" stroke="#151515" stroke-width="0.71">5000</text>
</g>
<g id="panel-h">
<text transform="translate(51.56,1665.60) scale(0.5625,0.5462)" font-size="100" font-weight="bold">h</text>
<text transform="translate(203.07,1666.00) scale(1.0228,1.0000)" font-size="34.3" stroke="#151515" stroke-width="0.69">Original</text>
<text transform="translate(185.93,1709.00) scale(1.0314,1.0000)" font-size="34.3" stroke="#151515" stroke-width="0.69">co-culture</text>
<line x1="185.8" y1="1714.0" x2="340.8" y2="1714.0" stroke="#151515" stroke-width="2"/>
<text transform="translate(190.09,1786.40) scale(1.0062,1.0000)" font-size="34.3" stroke="#151515" stroke-width="0.70">Nalm6</text>
<text transform="translate(298.70,1786.40) scale(0.8975,1.0000)" font-size="34.3" stroke="#151515" stroke-width="0.74">WT</text>
<text transform="translate(56.36,1835.70) scale(0.8696,1.0000)" font-size="34.3" stroke="#151515" stroke-width="0.75">CAR</text>
<text transform="translate(41.71,1878.60) scale(0.9352,1.0000)" font-size="34.3" stroke="#151515" stroke-width="0.72">T cells</text>
<text transform="translate(165.70,1950.98) scale(0.4206,0.4306)" font-size="100">+</text>
<text transform="translate(246.97,1949.30) scale(0.8953,1.0000)" font-size="34.3" stroke="#151515" stroke-width="0.74">OR</text>
<text transform="translate(412.20,1991.00) scale(0.9522,1.0000)" font-size="34.3" stroke="#151515" stroke-width="0.72">15 day</text>
<text transform="translate(384.64,2033.00) scale(1.0280,1.0000)" font-size="34.3" stroke="#151515" stroke-width="0.69">co-culture</text>
<text transform="translate(160.13,2112.50) scale(0.9925,1.0000)" font-size="34.3" fill="#e1261c" stroke="#e1261c" stroke-width="0.70">Nalm6</text>
<text transform="translate(266.85,2112.50) scale(0.7803,1.0000)" font-size="34.3" font-style="italic" fill="#e1261c" stroke="#e1261c" stroke-width="0.79">SPPL3</text>
<text transform="translate(354.46,2100.49) scale(0.9070,1.0000)" font-size="19.2" fill="#e1261c" stroke="#e1261c" stroke-width="0.73">KO</text>
<rect x="28.5" y="1878.5" width="141.5" height="141.5" fill="#fdfdfd"/>
<use href="#tcs" transform="translate(86.7,1925.7)"/>
<use href="#tcs" transform="translate(60.8,1972.5)"/>
<use href="#tcs" transform="translate(115.0,1977.7)"/>
<use href="#ng" transform="translate(270.4,1866.6) scale(0.8)"/>
<use href="#ng" transform="translate(239.2,1867.4) scale(0.8)"/>
<use href="#ng" transform="translate(254.0,1836.2) scale(0.8)"/>
<use href="#ng" transform="translate(286.8,1845.7) scale(0.8)"/>
<use href="#ng" transform="translate(264.3,1888.0) scale(0.8)"/>
<use href="#ng" transform="translate(292.2,1885.3) scale(0.8)"/>
<use href="#nr" transform="translate(252.5,1985.3) scale(0.805)"/>
<use href="#nr" transform="translate(275.4,2006.0) scale(0.805)"/>
<use href="#nr" transform="translate(243.2,2015.5) scale(0.805)"/>
<use href="#nr" transform="translate(282.7,1981.8) scale(0.805)"/>
<use href="#nr" transform="translate(265.4,2027.1) scale(0.805)"/>
<use href="#nr" transform="translate(292.7,2032.0) scale(0.805)"/>
<path d="M377.00,1944.50 L440.00,1944.91 L546.00,1945.60 L546.00,1943.20 L440.00,1943.89 L377.00,1944.30Z" fill="#151515"/>
<path d="M555.30,1944.40 L544.30,1949.60 L544.30,1939.20Z" fill="#151515"/>
<path d="M450.00,1944.60 L457.30,1944.72 L464.20,1944.68 L470.71,1944.56 L476.86,1944.37 L482.66,1944.11 L488.14,1943.79 L493.30,1943.40 L498.18,1942.94 L502.79,1942.42 L507.15,1941.83 L511.27,1941.17 L515.18,1940.43 L518.89,1939.63 L522.42,1938.75 L525.80,1937.80 L529.42,1936.53 L576.90,1887.67 L575.10,1885.93 L527.98,1935.07 L525.21,1935.86 L521.91,1936.83 L518.44,1937.72 L514.79,1938.54 L510.94,1939.30 L506.87,1939.99 L502.56,1940.62 L497.99,1941.18 L493.15,1941.68 L488.02,1942.13 L482.57,1942.51 L476.79,1942.84 L470.66,1943.12 L464.17,1943.35 L457.28,1943.55 L450.00,1943.80Z" fill="#151515"/>
<path d="M582.60,1879.80 L578.45,1891.76 L570.81,1884.42Z" fill="#151515"/>
<text transform="translate(749.84,1666.00) scale(0.9804,1.0000)" font-size="34.3" stroke="#151515" stroke-width="0.71">Second</text>
<text transform="translate(728.52,1709.00) scale(1.0402,1.0000)" font-size="34.3" stroke="#151515" stroke-width="0.69">co-culture</text>
<line x1="729.6" y1="1714.2" x2="884.3" y2="1714.2" stroke="#151515" stroke-width="1.6"/>
<use href="#tc" transform="translate(633.2,1796.7) scale(0.62)"/>
<use href="#tc" transform="translate(609.9,1838.5) scale(0.62)"/>
<use href="#tc" transform="translate(658.2,1843.7) scale(0.62)"/>
<linearGradient id="fade1" gradientUnits="userSpaceOnUse" x1="683" y1="0" x2="735" y2="0"><stop offset="0" stop-color="#151515" stop-opacity="0.1"/><stop offset="1" stop-color="#151515" stop-opacity="1"/></linearGradient>
<path d="M683.68,1807.48 L686.69,1804.54 L689.73,1801.68 L692.80,1798.91 L695.91,1796.24 L699.06,1793.68 L702.25,1791.24 L705.46,1788.93 L708.71,1786.74 L711.98,1784.70 L715.28,1782.80 L718.60,1781.05 L721.94,1779.46 L725.30,1778.04 L728.66,1776.79 L732.04,1775.72 L735.43,1774.83 L738.82,1774.13 L742.22,1773.64 L745.61,1773.34 L749.01,1773.26 L752.07,1773.35 L755.06,1773.58 L757.97,1773.95 L760.80,1774.46 L763.56,1775.11 L766.24,1775.89 L768.85,1776.80 L771.39,1777.84 L773.86,1779.02 L776.25,1780.32 L778.57,1781.75 L780.82,1783.31 L783.01,1785.00 L785.12,1786.80 L787.17,1788.74 L789.15,1790.79 L791.07,1792.97 L792.92,1795.26 L794.70,1797.68 L796.43,1800.23 L798.57,1798.77 L796.78,1796.19 L794.91,1793.71 L792.97,1791.35 L790.96,1789.11 L788.87,1787.00 L786.72,1785.01 L784.49,1783.15 L782.19,1781.42 L779.82,1779.82 L777.38,1778.35 L774.86,1777.02 L772.27,1775.82 L769.61,1774.77 L766.88,1773.85 L764.08,1773.07 L761.21,1772.44 L758.26,1771.94 L755.25,1771.60 L752.16,1771.40 L748.99,1771.34 L745.49,1771.48 L741.99,1771.83 L738.50,1772.39 L735.03,1773.15 L731.57,1774.11 L728.12,1775.26 L724.70,1776.58 L721.31,1778.08 L717.94,1779.75 L714.59,1781.57 L711.28,1783.55 L708.00,1785.68 L704.76,1787.94 L701.56,1790.33 L698.39,1792.85 L695.27,1795.49 L692.20,1798.24 L689.18,1801.10 L686.21,1804.05 L683.32,1807.12Z" fill="url(#fade1)"/>
<path d="M804.30,1808.20 L792.20,1802.82 L800.65,1795.47Z" fill="#151515"/>
<use href="#ng" transform="translate(816.2,1879.0) scale(0.95)"/>
<use href="#ng" transform="translate(779.0,1881.0) scale(0.95)"/>
<use href="#ng" transform="translate(796.6,1842.9) scale(0.95)"/>
<use href="#ng" transform="translate(835.2,1853.9) scale(0.95)"/>
<use href="#ng" transform="translate(807.6,1904.8) scale(0.95)"/>
<use href="#ng" transform="translate(841.9,1901.9) scale(0.95)"/>
<path d="M882.0,1881.0 L946.9,1880.0 L1026.2,1880.0 L1026.2,1882.0 L946.9,1882.0Z" fill="#151515"/>
<path d="M1036.2,1881.0 L1025.2,1875.5 L1025.2,1886.5Z" fill="#151515"/>
<text transform="translate(875.65,1934.20) scale(1.0193,1.0000)" font-size="34.3" stroke="#151515" stroke-width="0.69">Functional</text>
<text transform="translate(877.05,1977.50) scale(1.0216,1.0000)" font-size="34.3" stroke="#151515" stroke-width="0.69">evaluation</text>
</g>
<g id="panel-i">
<text transform="translate(1108.00,1666.60) scale(0.6857,0.5255)" font-size="100" font-weight="bold">i</text>
<text transform="translate(1321.38,1635.40) scale(1.0198,1.0000)" font-size="34.3" stroke="#151515" stroke-width="0.69">Original co-culture</text>
<line x1="1321.5" y1="1640.0" x2="1604.5" y2="1640.0" stroke="#151515" stroke-width="2"/>
<line x1="1202.0" y1="1676.0" x2="1263.0" y2="1676.0" stroke="#8a8a8a" stroke-width="5.4"/>
<text transform="translate(1268.24,1687.00) scale(1.0241,1.0000)" font-size="34.3" stroke="#151515" stroke-width="0.69">Nalm6</text>
<text transform="translate(1377.00,1687.00) scale(0.8918,1.0000)" font-size="34.3" stroke="#151515" stroke-width="0.74">WT</text>
<line x1="1463.0" y1="1676.0" x2="1523.8" y2="1676.0" stroke="#e02e16" stroke-width="5.4"/>
<text transform="translate(1530.39,1687.00) scale(1.0062,1.0000)" font-size="34.3" stroke="#151515" stroke-width="0.70">Nalm6</text>
<text transform="translate(1637.63,1687.00) scale(0.7945,1.0000)" font-size="34.3" font-style="italic" stroke="#151515" stroke-width="0.78">SPPL3</text>
<text transform="translate(1724.36,1674.99) scale(0.9070,1.0000)" font-size="19.2" stroke="#151515" stroke-width="0.73">KO</text>
<polyline points="1275.8,2120 1363.8,1820.5 1451.3,1773.8" fill="none" stroke="#8c8c8c" stroke-width="4" stroke-linejoin="round"/>
<line x1="1451.3" y1="1773.8" x2="1539.3" y2="1773.8" stroke="#8c8c8c" stroke-width="3"/>
<line x1="1363.8" y1="1808.8" x2="1363.8" y2="1832.0" stroke="#000" stroke-width="2"/>
<line x1="1359.3" y1="1808.8" x2="1368.3" y2="1808.8" stroke="#000" stroke-width="2"/>
<line x1="1359.3" y1="1832.0" x2="1368.3" y2="1832.0" stroke="#000" stroke-width="2"/>
<circle cx="1363.8" cy="1820.5" r="3.7" fill="#000"/>
<circle cx="1451.3" cy="1773.8" r="3.7" fill="#000"/>
<circle cx="1539.3" cy="1773.8" r="3.7" fill="#000"/>
<line x1="1218.4" y1="1771.8" x2="1218.4" y2="2156.2" stroke="#000" stroke-width="4.2"/>
<line x1="1216.3" y1="2154.1" x2="1598.8" y2="2154.1" stroke="#000" stroke-width="4.2"/>
<line x1="1210.0" y1="1773.8" x2="1218.4" y2="1773.8" stroke="#000" stroke-width="4"/>
<text transform="translate(1153.24,1783.40) scale(1.0219,1.0000)" font-size="27.5" stroke="#151515" stroke-width="0.69">100</text>
<line x1="1210.0" y1="1843.0" x2="1218.4" y2="1843.0" stroke="#000" stroke-width="4"/>
<text transform="translate(1168.99,1852.60) scale(1.0168,1.0000)" font-size="27.5" stroke="#151515" stroke-width="0.69">80</text>
<line x1="1210.0" y1="1912.3" x2="1218.4" y2="1912.3" stroke="#000" stroke-width="4"/>
<text transform="translate(1168.85,1921.90) scale(1.0217,1.0000)" font-size="27.5" stroke="#151515" stroke-width="0.69">60</text>
<line x1="1210.0" y1="1981.5" x2="1218.4" y2="1981.5" stroke="#000" stroke-width="4"/>
<text transform="translate(1169.70,1991.10) scale(0.9927,1.0000)" font-size="27.5" stroke="#151515" stroke-width="0.70">40</text>
<line x1="1210.0" y1="2050.8" x2="1218.4" y2="2050.8" stroke="#000" stroke-width="4"/>
<text transform="translate(1168.85,2060.40) scale(1.0217,1.0000)" font-size="27.5" stroke="#151515" stroke-width="0.69">20</text>
<line x1="1210.0" y1="2120.0" x2="1218.4" y2="2120.0" stroke="#000" stroke-width="4"/>
<text transform="translate(1183.99,2129.60) scale(1.0530,1.0000)" font-size="27.5" stroke="#151515" stroke-width="0.68">0</text>
<line x1="1275.8" y1="2154.0" x2="1275.8" y2="2162.6" stroke="#000" stroke-width="3.6"/>
<line x1="1363.8" y1="2154.0" x2="1363.8" y2="2162.6" stroke="#000" stroke-width="3.6"/>
<line x1="1451.3" y1="2154.0" x2="1451.3" y2="2162.6" stroke="#000" stroke-width="3.6"/>
<line x1="1539.3" y1="2154.0" x2="1539.3" y2="2162.6" stroke="#000" stroke-width="3.6"/>
<text transform="translate(1270.34,2201.94) scale(0.3271,0.3056)" font-size="100" stroke="#151515" stroke-width="2.21">0</text>
<text transform="translate(1357.90,2202.25) scale(0.2736,0.3145)" font-size="100" stroke="#151515" stroke-width="2.38">1</text>
<text transform="translate(1437.18,2202.25) scale(0.3347,0.3145)" font-size="100" stroke="#151515" stroke-width="2.16">4</text>
<text transform="translate(1533.31,2201.94) scale(0.3426,0.3056)" font-size="100" stroke="#151515" stroke-width="2.16">8</text>
<line x1="1217.6" y1="2120.3" x2="1597.7" y2="2120.3" stroke="#000" stroke-width="4.6" stroke-dasharray="12.2 9.6" stroke-linecap="round"/>
<line x1="1363.8" y1="2099.5" x2="1363.8" y2="2130.0" stroke="#e02e16" stroke-width="1.9"/>
<line x1="1359.3" y1="2099.5" x2="1368.3" y2="2099.5" stroke="#e02e16" stroke-width="1.9"/>
<line x1="1359.3" y1="2130.0" x2="1368.3" y2="2130.0" stroke="#e02e16" stroke-width="1.9"/>
<polyline points="1275.8,2120 1363.8,2114.5 1451.3,2127.5 1539.3,2115" fill="none" stroke="#e02e16" stroke-width="4.1" stroke-linejoin="round" stroke-linecap="round"/>
<circle cx="1275.8" cy="2120" r="3.6" fill="#e02e16"/>
<circle cx="1363.8" cy="2114.5" r="3.6" fill="#e02e16"/>
<circle cx="1451.3" cy="2127.5" r="3.6" fill="#e02e16"/>
<circle cx="1539.3" cy="2115" r="3.6" fill="#e02e16"/>
<text transform="translate(1331.67,1803.33) scale(0.3226,0.3171)" font-size="100" stroke="#151515" stroke-width="0.94">****</text>
<text transform="translate(1430.17,1756.53) scale(0.3226,0.3171)" font-size="100" stroke="#151515" stroke-width="0.94">****</text>
<text transform="translate(1525.47,1762.53) scale(0.3226,0.3171)" font-size="100" stroke="#151515" stroke-width="0.94">****</text>
<text transform="translate(1131.3,2053.5) rotate(-90) translate(-0.65,0.00) scale(1.0212,1.0000)" font-size="28" stroke="#151515" stroke-width="0.69">% specific killing</text>
<text transform="translate(1319.94,2240.50) scale(0.9865,1.0000)" font-size="28" stroke="#151515" stroke-width="0.70">Days in second</text>
<text transform="translate(1350.47,2275.60) scale(1.0536,1.0000)" font-size="28" stroke="#151515" stroke-width="0.68">co-culture</text>
</g>
</svg></body></html>
